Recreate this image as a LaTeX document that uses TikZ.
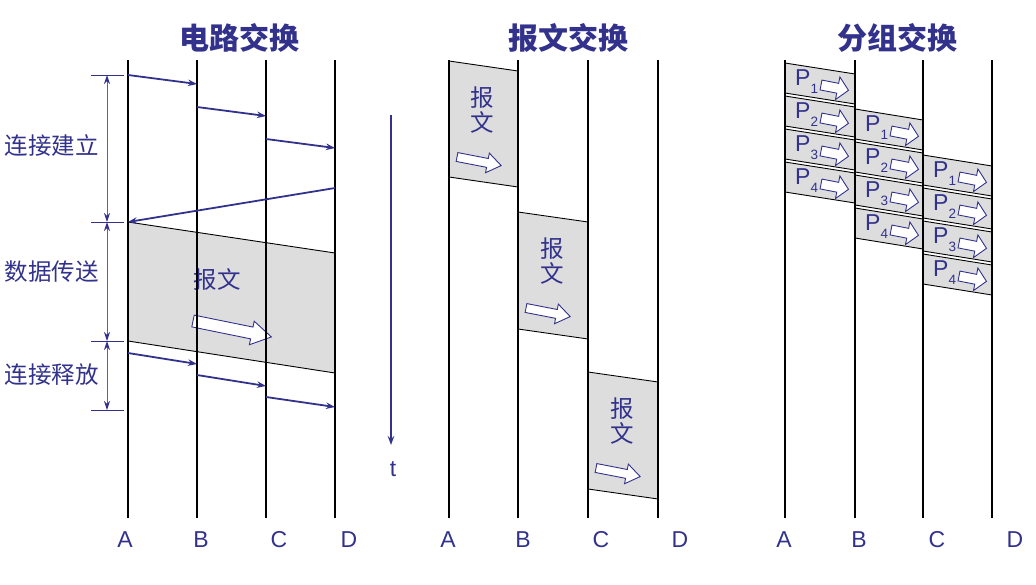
\documentclass[tikz,border=0pt]{standalone}
\usepackage{fontspec}
\setmainfont{Liberation Sans}
\newfontfamily\cjk{Noto Sans CJK SC}
\usetikzlibrary{arrows.meta}
\definecolor{nav}{RGB}{50,50,140}
\definecolor{dimc}{RGB}{95,95,165}
\definecolor{pk}{RGB}{221,221,221}
\begin{document}
\begin{tikzpicture}[x=1pt,y=-1pt,
  station/.style={line width=2.2pt,black},
  signal/.style={nav,line width=1.8pt,-{Stealth[length=9pt,width=6.5pt]}},
  edge/.style={black,line width=0.9pt},
  hollowarrow/.style={draw=nav,fill=white,line width=0.9pt},
  title/.style={font=\cjk\bfseries\fontsize{30}{32}\selectfont,text=nav},
  cjklab/.style={font=\cjk\fontsize{23.5}{25}\selectfont,text=nav,inner sep=0pt},
  stlab/.style={font=\fontsize{23}{25}\selectfont,text=nav},
  ptxt/.style={font=\fontsize{23}{24}\selectfont,text=nav,inner sep=0pt},
  dimline/.style={dimc,line width=1pt,{Stealth[length=9pt,width=6pt,color=nav]}-{Stealth[length=9pt,width=6pt,color=nav]}},
  ticks/.style={nav,line width=1pt},
  pics/harrow/.style n args={4}{code={
    \draw[hollowarrow] (0,-#2) -- ({#1-#4},-#2) -- ({#1-#4},-#3) -- (#1,0) -- ({#1-#4},#3) -- ({#1-#4},#2) -- (0,#2) -- cycle;}}
]
\useasboundingbox (0,0) rectangle (1036,584);

% ---------- titles ----------
\node[title] (t1) at (239,38) {电路交换};
\node[title] (t2) at (568,38) {报文交换};
\node[title] (t3) at (897,38) {分组交换};

% ---------- circuit switching ----------
\fill[pk] (128,222) -- (335,253) -- (335,373) -- (128,341) -- cycle;
\draw[edge] (128,222) -- (335,253);
\draw[edge] (128,341) -- (335,373);
\node[cjklab] (cmsg) at (217,280) {报文};
\pic[rotate=-11.5] at (193,321) {harrow={80}{6}{12}{20}};

\foreach \x in {128,197,266,335} \draw[station] (\x,60) -- (\x,518);

\coordinate (s1a) at (128,75);  \coordinate (s1b) at (197,84);
\coordinate (s2a) at (197,107); \coordinate (s2b) at (266,116);
\coordinate (s3a) at (266,139); \coordinate (s3b) at (335,148);
\coordinate (ra) at (335,188);  \coordinate (rb) at (128,222);
\coordinate (e1a) at (128,353); \coordinate (e1b) at (197,364);
\coordinate (e2a) at (197,375); \coordinate (e2b) at (266,386);
\coordinate (e3a) at (266,397); \coordinate (e3b) at (335,407);
\draw[signal] (s1a) -- (s1b);
\draw[signal] (s2a) -- (s2b);
\draw[signal] (s3a) -- (s3b);
\draw[signal] (ra) -- (rb);
\draw[signal] (e1a) -- (e1b);
\draw[signal] (e2a) -- (e2b);
\draw[signal] (e3a) -- (e3b);

% dimension marks
\foreach \y/\nm in {75/d0,222/d1,341/d2,410/d3} {
  \coordinate (\nm) at (107,\y);
  \draw[ticks] (91,\y) -- (124,\y);
}
\draw[dimline] (d0) -- (d1);
\draw[dimline] (d1) -- (d2);
\draw[dimline] (d2) -- (d3);
\node[cjklab] (l1) at (52,146) {连接建立};
\node[cjklab] (l2) at (52,272) {数据传送};
\node[cjklab] (l3) at (52,375) {连接释放};

% time axis
\coordinate (ta) at (391,115);
\coordinate (tb) at (391,445);
\draw[nav,line width=1.6pt,-{Stealth[length=9pt,width=6.5pt]}] (ta) -- (tb);
\node[stlab] (tt) at (393,469) {t};

% ---------- message switching ----------
\foreach \xl/\xr/\T/\H/\nm in {449/518/61/116/m1, 518/588/212/117/m2, 588/658/372/117/m3} {
  \fill[pk] (\xl,\T) -- (\xr,\T+10) -- (\xr,\T+10+\H) -- (\xl,\T+\H) -- cycle;
  \draw[edge] (\xl,\T) -- (\xr,\T+10);
  \draw[edge] (\xl,\T+\H) -- (\xr,\T+10+\H);
  \node[cjklab] (\nm a) at ({(\xl+\xr)/2-1},\T+37) {报};
  \node[cjklab] (\nm b) at ({(\xl+\xr)/2-1},\T+61) {文};
  \pic[rotate=-11] at (\xl+8,\T+96) {harrow={45}{4.5}{10}{14}};
}
\foreach \x in {449,518,588,658} \draw[station] (\x,60) -- (\x,518);

% ---------- packet switching ----------
\foreach \col/\xl/\xr/\T in {0/785/855/63, 1/855/923/109, 2/923/992/155} {
  \foreach \i [evaluate=\i as \y using \T+33*\i, evaluate=\i as \k using int(\i+1)] in {0,...,3} {
    \fill[pk] (\xl,\y) -- (\xr,\y+11) -- (\xr,\y+41) -- (\xl,\y+30) -- cycle;
    \draw[edge] (\xl,\y) -- (\xr,\y+11);
    \draw[edge] (\xl,\y+30) -- (\xr,\y+41);
    \node[ptxt,anchor=base west] (p\col\k) at (\xl+10,\y+22) {P\raisebox{-8pt}{\fontsize{13.5}{14}\selectfont\k}};
    \pic[rotate=-11] at (\xl+36,\y+22) {harrow={28}{5}{11.5}{11}};
  }
}
\foreach \x in {785,855,923,992} \draw[station] (\x,60) -- (\x,518);

% ---------- station labels ----------
\foreach \x/\s/\nm in {125/A/a1,201/B/b1,279/C/c1,349/D/d1x,
                       448/A/a2,523/B/b2,601/C/c2,680/D/d2x,
                       784/A/a3,859/B/b3,937/C/c3,1015/D/d3x}
  \node[stlab] (\nm) at (\x,540) {\s};
\end{tikzpicture}
\end{document}
